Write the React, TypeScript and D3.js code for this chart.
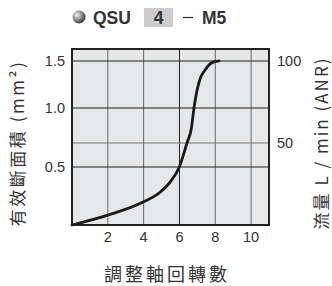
import * as d3 from "d3";

// adjusting-screw turns vs flow (L/min ANR)
const turns = [0, 2, 3.97, 4.92, 5.47, 6, 6.42, 6.65, 6.82, 6.98, 7.15, 7.43, 7.82, 8.21];
const flow = [0, 6, 14, 20, 26, 35.5, 50, 58, 72, 82, 89, 94.5, 99, 100];

const xTicks = [2, 4, 6, 8, 10];
const areaTicks = [0.5, 1.0, 1.5];
const areaTickLabels = ["0.5", "1.0", "1.5"];
const flowTicks = [50, 100];

const width = 332;
const height = 286;
const marginTop = 49;
const marginRight = 63;
const marginBottom = 61;
const marginLeft = 72;

const numFont = "'Liberation Sans', Arial, sans-serif";
const cjkFont = "'Noto Sans CJK TC', 'Noto Sans CJK SC', sans-serif";

export default function App() {
  const x = d3.scaleLinear([0, 11], [marginLeft, width - marginRight]);
  const yFlow = d3.scaleLinear([0, 107.3], [height - marginBottom, marginTop]);
  // left axis in the original is not evenly spaced
  const yArea = d3.scaleLinear([0, 0.5, 1.0, 1.5], [225, 167, 108, 61]);

  const line = d3
    .line<number>((d, i) => x(d), (d, i) => yFlow(flow[i]))
    .curve(d3.curveMonotoneX);

  const x0 = marginLeft;
  const x1 = width - marginRight;
  const y0 = height - marginBottom;
  const y1 = marginTop;

  return (
    <svg
      width={width}
      height={height}
      style={{ position: "absolute", left: 0, top: 0, background: "#fff" }}
    >
      <defs>
        <radialGradient id="ball" cx="35%" cy="35%" r="70%">
          <stop offset="0%" stopColor="#f4f4f4" />
          <stop offset="55%" stopColor="#888" />
          <stop offset="100%" stopColor="#333" />
        </radialGradient>
      </defs>

      {/* title */}
      <circle cx={79} cy={17} r={6.5} fill="url(#ball)" />
      <text x={93} y={23.5} fontFamily={numFont} fontWeight="bold" fontSize={17.5} fill="#333">
        QSU
      </text>
      <rect x={144} y={8} width={29} height={19} fill="#cdcdcd" />
      <text x={158.5} y={23.5} textAnchor="middle" fontFamily={numFont} fontWeight="bold" fontSize={17.5} fill="#333">
        4
      </text>
      <line x1={183} x2={193} y1={17.5} y2={17.5} stroke="#333" strokeWidth={1.2} />
      <text x={202} y={23.5} fontFamily={numFont} fontWeight="bold" fontSize={17.5} fill="#333">
        M5
      </text>

      {/* plot background */}
      <rect x={x0} y={y1} width={x1 - x0} height={y0 - y1} fill="#e6e7e8" />

      {/* grid */}
      {xTicks.map((t) => (
        <line
          key={"gx" + t}
          x1={x(t)}
          x2={x(t)}
          y1={y1}
          y2={y0}
          stroke={t === 6 ? "#222" : "#666"}
          strokeWidth={1}
        />
      ))}
      {areaTicks.map((t) => (
        <line key={"ga" + t} x1={x0} x2={x1} y1={yArea(t)} y2={yArea(t)} stroke="#222" strokeWidth={1} />
      ))}
      {flowTicks
        .filter((t) => t !== 100)
        .map((t) => (
          <line key={"gf" + t} x1={x0} x2={x1} y1={yFlow(t)} y2={yFlow(t)} stroke="#777" strokeWidth={1} />
        ))}

      {/* frame */}
      <rect x={x0} y={y1} width={x1 - x0} height={y0 - y1} fill="none" stroke="#222" strokeWidth={2} />

      {/* curve */}
      <path d={line(turns)!} fill="none" stroke="#1a1a1a" strokeWidth={2.8} strokeLinecap="round" />

      {/* tick labels */}
      <g fontFamily={numFont} fontSize={14.5} fill="#333">
        {xTicks.map((t) => (
          <text key={"tx" + t} x={x(t)} y={242} textAnchor="middle">
            {t}
          </text>
        ))}
        {areaTicks.map((t, i) => (
          <text key={"ta" + t} x={65} y={yArea(t) + 5} textAnchor="end">
            {areaTickLabels[i]}
          </text>
        ))}
        {flowTicks.map((t) => (
          <text key={"tf" + t} x={277} y={yFlow(t) + 5}>
            {t}
          </text>
        ))}
      </g>

      {/* axis titles */}
      <text
        transform="translate(24,143) rotate(-90)"
        textAnchor="middle"
        fontFamily={cjkFont}
        fontSize={17}
        letterSpacing={2.5}
        fill="#333"
      >
        有效斷面積 (mm²)
      </text>
      <text
        transform="translate(328,143) rotate(-90)"
        textAnchor="middle"
        fontFamily={cjkFont}
        fontSize={17}
        letterSpacing={2}
        fill="#333"
      >
        流量 L / min (ANR)
      </text>
      <text
        x={167}
        y={281}
        textAnchor="middle"
        fontFamily={cjkFont}
        fontSize={18}
        letterSpacing={3}
        fill="#333"
      >
        調整軸回轉數
      </text>
    </svg>
  );
}
